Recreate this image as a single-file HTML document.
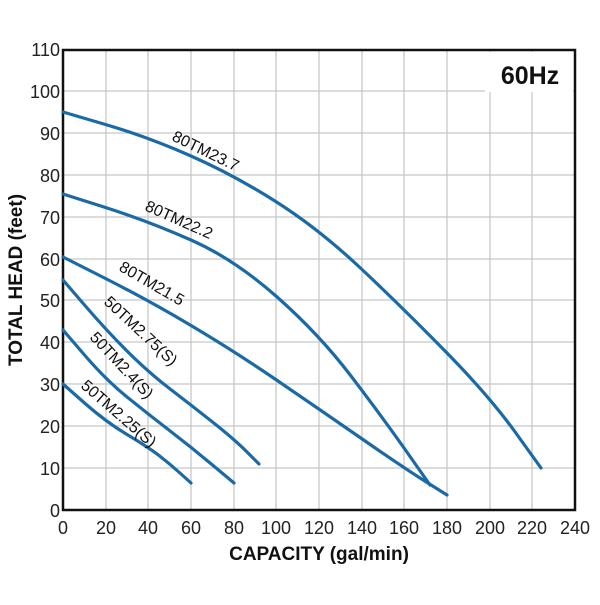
<!DOCTYPE html>
<html><head><meta charset="utf-8"><style>body{margin:0;background:#fff}</style></head><body>
<svg width="600" height="600" viewBox="0 0 600 600" xmlns="http://www.w3.org/2000/svg" font-family="Liberation Sans, sans-serif">
<rect width="600" height="600" fill="#fff"/>
<g stroke="#c8c8c8" stroke-width="1.3">
<line x1="106" y1="50" x2="106" y2="510"/><line x1="148" y1="50" x2="148" y2="510"/><line x1="191" y1="50" x2="191" y2="510"/><line x1="234" y1="50" x2="234" y2="510"/><line x1="276" y1="50" x2="276" y2="510"/><line x1="319" y1="50" x2="319" y2="510"/><line x1="362" y1="50" x2="362" y2="510"/><line x1="404" y1="50" x2="404" y2="510"/><line x1="447" y1="50" x2="447" y2="510"/><line x1="490" y1="50" x2="490" y2="510"/><line x1="532" y1="50" x2="532" y2="510"/>
<line x1="63" y1="468" x2="575" y2="468"/><line x1="63" y1="426" x2="575" y2="426"/><line x1="63" y1="384" x2="575" y2="384"/><line x1="63" y1="342" x2="575" y2="342"/><line x1="63" y1="300" x2="575" y2="300"/><line x1="63" y1="259" x2="575" y2="259"/><line x1="63" y1="217" x2="575" y2="217"/><line x1="63" y1="175" x2="575" y2="175"/><line x1="63" y1="133" x2="575" y2="133"/><line x1="63" y1="91" x2="575" y2="91"/>
</g>
<rect x="63" y="50" width="512" height="460" fill="none" stroke="#111" stroke-width="2.5"/>
<rect x="485" y="52" width="88" height="40" fill="#fff"/>
<text x="530" y="84" font-size="25" font-weight="bold" text-anchor="middle" fill="#111">60Hz</text>
<g fill="none" stroke="#1b6aa5" stroke-width="3.2" stroke-linejoin="round" stroke-linecap="round">
<path d="M63,112 L105.5,124.5 Q148,137 191,156 Q234,175 276.5,202 Q319,229 361.5,269 Q404,309 447,353 Q490,397 515.5,432.5 L541,468"/>
<path d="M63,194 L105.5,207.5 Q148,221 191,240 Q234,259 276.5,296.5 Q319,334 351,376 Q383,418 406.5,451.5 L430,485"/>
<path d="M63,257 L105.5,278.5 Q148,300 191,325.5 Q234,351 276.5,380 Q319,409 361.5,438.5 Q404,468 425.5,481.5 L447,495"/>
<path d="M63,280 L84.5,305 Q106,330 127,351 Q148,372 169.5,388.5 Q191,405 212.5,422 Q234,439 246.5,451.5 L259,464"/>
<path d="M63,330 L84.5,355 Q106,380 127,397 Q148,414 169.5,430.5 Q191,447 212.5,465 L234,483"/>
<path d="M63,384 L84.5,403 Q106,422 127,434.5 Q148,447 159,455.5 Q170,464 180.5,473.5 L191,483"/>
</g>
<g font-size="16" fill="#111">
<text transform="translate(171,140) rotate(26)">80TM23.7</text>
<text transform="translate(144,210) rotate(24)">80TM22.2</text>
<text transform="translate(118,270) rotate(30)">80TM21.5</text>
<text transform="translate(103,303) rotate(43)">50TM2.75(S)</text>
<text transform="translate(89,338) rotate(47)">50TM2.4(S)</text>
<text transform="translate(80,387) rotate(41)">50TM2.25(S)</text>
</g>
<g font-size="18" fill="#222" text-anchor="end">
<text x="60" y="517">0</text><text x="60" y="475">10</text><text x="60" y="433">20</text><text x="60" y="391">30</text><text x="60" y="349">40</text><text x="60" y="307">50</text><text x="60" y="266">60</text><text x="60" y="224">70</text><text x="60" y="182">80</text><text x="60" y="140">90</text><text x="60" y="98">100</text><text x="60" y="56">110</text>
</g>
<g font-size="18" fill="#222" text-anchor="middle">
<text x="63" y="534">0</text><text x="106" y="534">20</text><text x="148" y="534">40</text><text x="191" y="534">60</text><text x="234" y="534">80</text><text x="276" y="534">100</text><text x="319" y="534">120</text><text x="362" y="534">140</text><text x="404" y="534">160</text><text x="447" y="534">180</text><text x="490" y="534">200</text><text x="532" y="534">220</text><text x="575" y="534">240</text>
</g>
<text x="319" y="560" font-size="19" font-weight="bold" text-anchor="middle" fill="#111">CAPACITY (gal/min)</text>
<text transform="translate(22,280) rotate(-90)" font-size="19" font-weight="bold" text-anchor="middle" fill="#111">TOTAL HEAD (feet)</text>
</svg>
</body></html>
